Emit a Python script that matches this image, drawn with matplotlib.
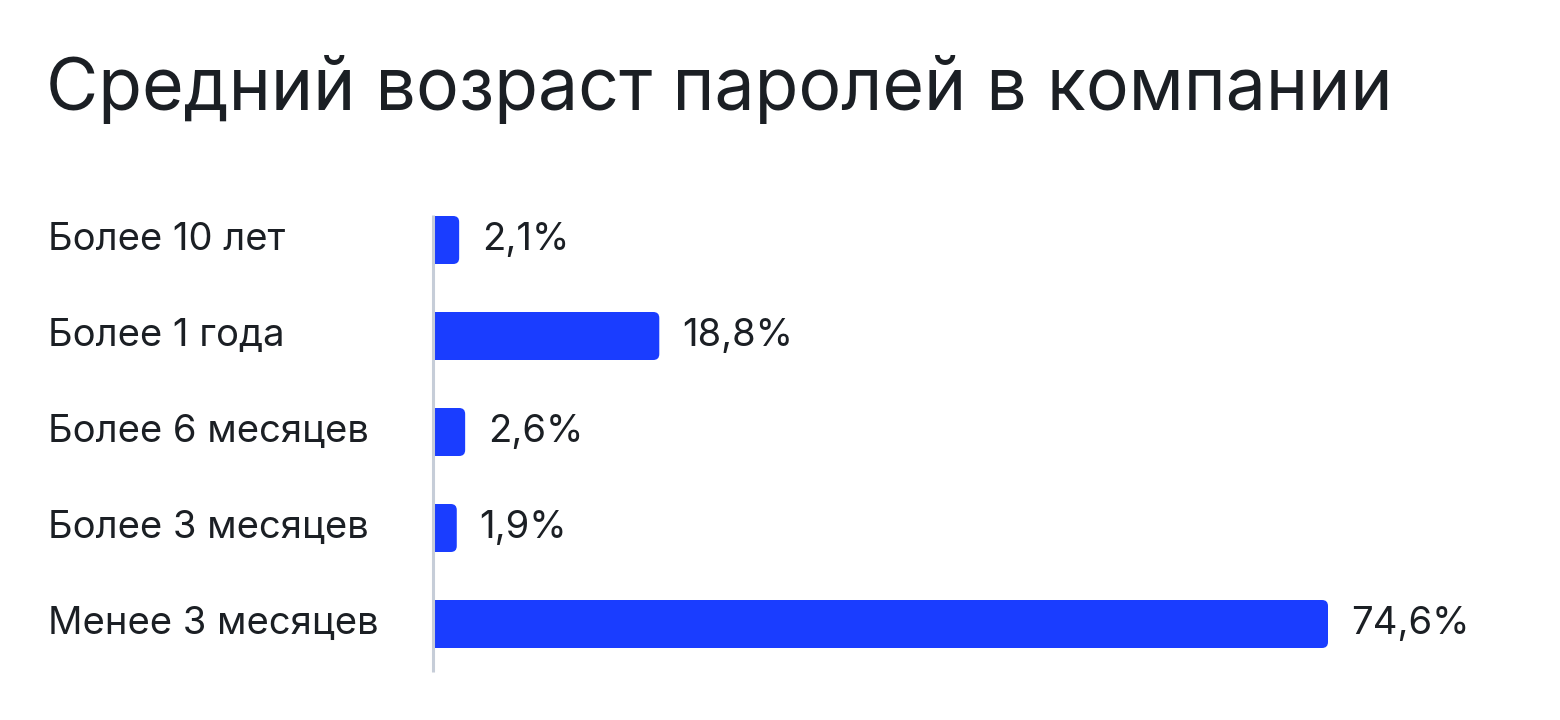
import matplotlib
matplotlib.use('Agg')
import matplotlib.pyplot as plt
from matplotlib.patches import FancyBboxPatch, Rectangle

plt.rcParams['font.family'] = ['Inter', 'DejaVu Sans']

title = 'Средний возраст паролей в компании'
categories = ['Более 10 лет', 'Более 1 года', 'Более 6 месяцев', 'Более 3 месяцев', 'Менее 3 месяцев']
values = [2.1, 18.8, 2.6, 1.9, 74.6]
value_labels = ['2,1%', '18,8%', '2,6%', '1,9%', '74,6%']

bar_color = '#1a3dff'
text_color = '#1b1f24'
axis_color = '#c6cdd8'

W, H = 1560, 720
fig = plt.figure(figsize=(W / 100, H / 100), dpi=100)
fig.patch.set_facecolor('white')

# axes placed in pixel terms: left edge = bar start, rows every 96 px
ax_left, ax_right = 434, 1540
ax_top, ax_bot = 200, 680
ax = fig.add_axes([ax_left / W, 1 - ax_bot / H, (ax_right - ax_left) / W, (ax_bot - ax_top) / H])
px_per_unit = (1328 - 434) / 74.6
xmax = (ax_right - ax_left) / px_per_unit
ax.set_xlim(0, xmax)
row_px = 96
ax.set_ylim(4 + (ax_bot - 624) / row_px, -(240 - ax_top) / row_px)
ax.axis('off')

bar_h = 0.5
r_px = 6
aspect = (1 / row_px) / (1 / px_per_unit)
for i, (v, lab) in enumerate(zip(values, value_labels)):
    r = r_px / px_per_unit
    ax.add_patch(FancyBboxPatch((0, i - bar_h / 2), v, bar_h,
                                boxstyle=f'round,pad=0,rounding_size={r}',
                                mutation_aspect=aspect, fc=bar_color, ec='none'))
    ax.add_patch(Rectangle((0, i - bar_h / 2), min(v, r * 1.5), bar_h, fc=bar_color, ec='none'))
    ax.annotate(lab, (v, i), xytext=(16.5, 0), textcoords='offset points',
                ha='left', va='center', fontsize=27.5, color=text_color)
    fig.text(48 / W, 1 - (240 + i * row_px) / H, categories[i], ha='left', va='center',
             fontsize=27.5, color=text_color)

ax.plot([-1.5 / px_per_unit, -1.5 / px_per_unit],
        [-(240 - 215) / row_px, 4 + (672 - 624) / row_px],
        color=axis_color, lw=2.2, clip_on=False, solid_capstyle='butt')

fig.text(46 / W, 1 - 91 / H, title, ha='left', va='center', fontsize=51.5, color=text_color)

fig.savefig('out.png', dpi=100, facecolor='white')
